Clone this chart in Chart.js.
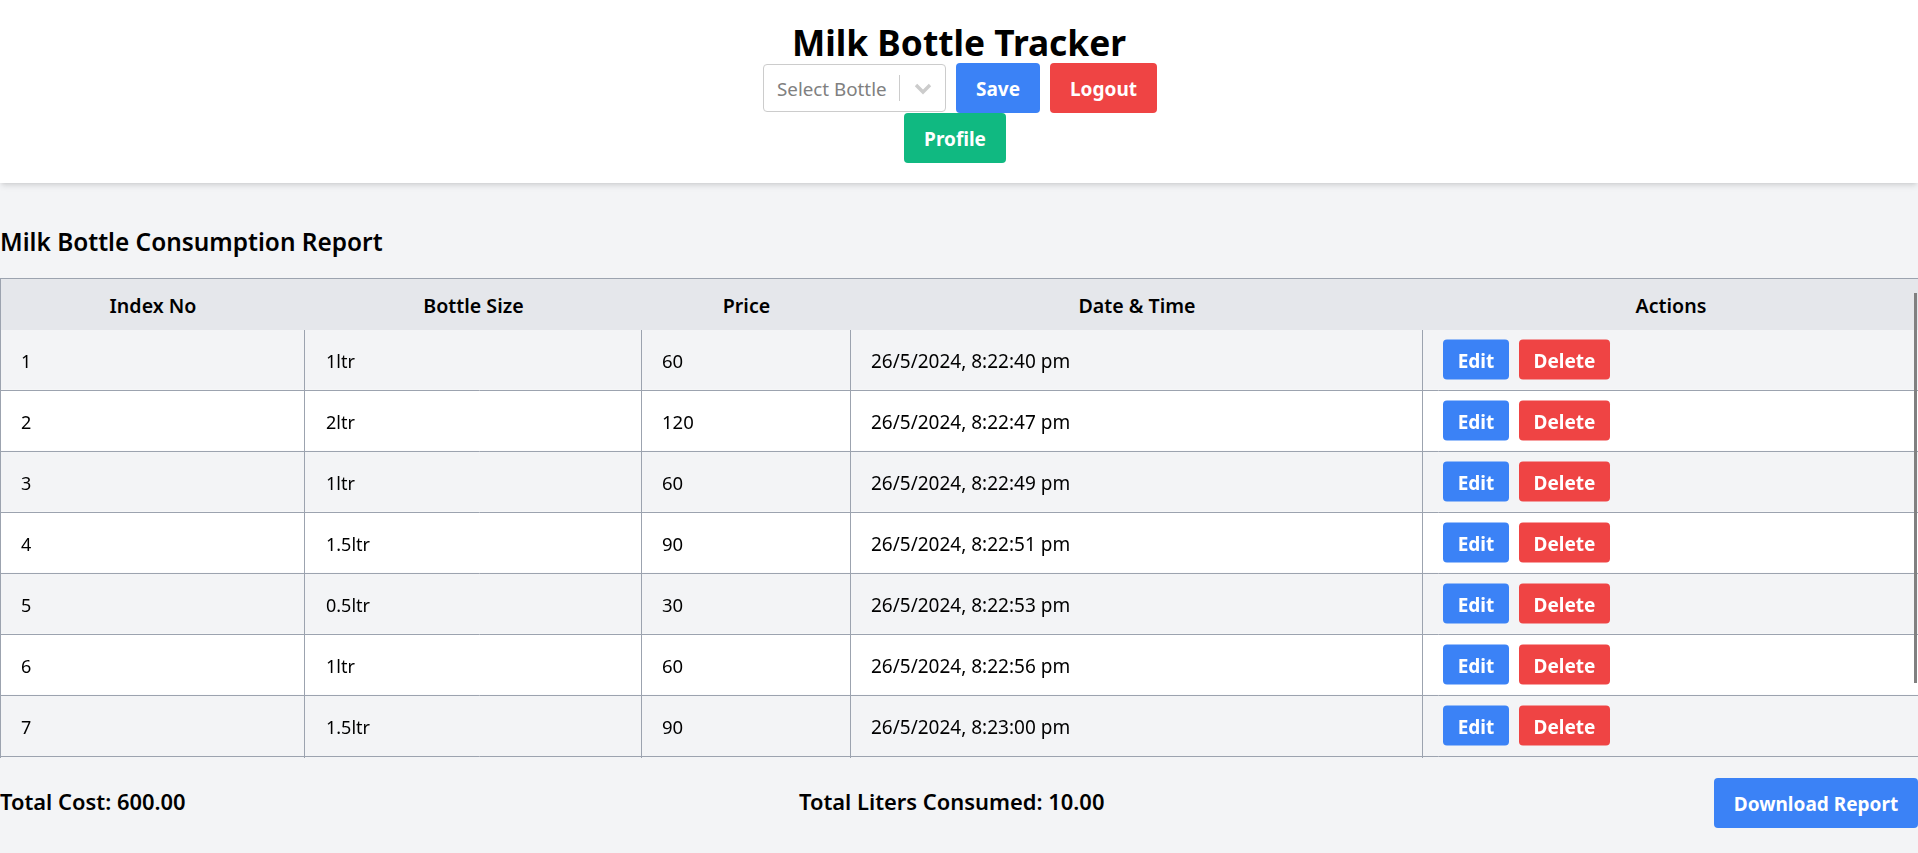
<!DOCTYPE html>
<html>
<head>
<meta charset="utf-8">
<title>Milk Bottle Tracker</title>
<script src="https://cdn.jsdelivr.net/npm/chart.js@4/dist/chart.umd.min.js"></script>
<style>
  html, body { margin: 0; height: 100%; overflow: hidden; background: #f3f4f6; }
  body { font-family: "Noto Sans", sans-serif; color: #000; position: relative; width: 1918px; height: 853px; }
  .abs { position: absolute; box-sizing: border-box; white-space: nowrap; }
  #topbar { left: 0; top: 0; width: 1918px; height: 183px; background: #fff;
            box-shadow: 0 4px 6px -1px rgba(0,0,0,.1), 0 2px 4px -2px rgba(0,0,0,.1); }
  h1 { margin: 0; left: 0; width: 1918px; top: 17px; text-align: center; font-size: 35.3px; line-height: 50px; font-weight: 700; }
  h2 { margin: 0; left: 0; top: 226px; font-size: 24.4px; line-height: 32px; font-weight: 600; }
  .btn { color: #fff; border-radius: 4px; font-size: 19px; font-weight: 700; text-align: center; height: 50px; line-height: 53px; }
  #select { left: 763px; top: 64px; width: 183px; height: 48px; background: #fff; border: 1px solid #ccc; border-radius: 4px; }
  #selectText { left: 13px; top: 0; line-height: 48px; font-size: 18.8px; color: #808080; }
  #selectSep { left: 135px; top: 10px; width: 1px; height: 26px; background: #ccc; }
  #thead { left: 0; top: 278px; width: 1918px; height: 52px; background: #e5e7eb; border-top: 1px solid #9ca3af; border-left: 1px solid #9ca3af; z-index: 1; }
  .th { top: 0; line-height: 53px; font-size: 19.6px; font-weight: 600; text-align: center; }
  #scrollThumb { left: 1914px; top: 293px; width: 3px; height: 390px; background: #808080; z-index: 2; }
  .total { top: 786px; font-size: 21.9px; line-height: 32px; font-weight: 600; }
  canvas { position: absolute; left: 0; top: 329px; }
</style>
</head>
<body>
<div class="abs" id="topbar"></div>
<h1 class="abs">Milk Bottle Tracker</h1>
<div class="abs" id="select">
  <span class="abs" id="selectText">Select Bottle</span>
  <span class="abs" id="selectSep"></span>
  <svg class="abs" style="left:150px;top:18px" width="18" height="12" viewBox="0 0 18 12"><path d="M2 2 L9 9 L16 2" fill="none" stroke="#ccc" stroke-width="3.4"/></svg>
</div>
<div class="abs btn" style="left:956px;top:63px;width:84px;background:#3b82f6">Save</div>
<div class="abs btn" style="left:1050px;top:63px;width:107px;background:#ef4444">Logout</div>
<div class="abs btn" style="left:904px;top:113px;width:102px;background:#10b981">Profile</div>

<h2 class="abs">Milk Bottle Consumption Report</h2>

<div class="abs" id="thead"></div>
<canvas id="report-chart" width="1918" height="429"></canvas>
<div class="abs" id="scrollThumb"></div>

<div class="abs total" style="left:0">Total Cost: 600.00</div>
<div class="abs total" style="left:799px">Total Liters Consumed: 10.00</div>
<div class="abs btn" style="left:1714px;top:778px;width:204px;background:#3b82f6">Download Report</div>

<script>
// Table contents
var columnHeaders = ["Index No", "Bottle Size", "Price", "Date & Time", "Actions"];
var indexNumbers = ["1", "2", "3", "4", "5", "6", "7"];
var bottleSizes = ["1ltr", "2ltr", "1ltr", "1.5ltr", "0.5ltr", "1ltr", "1.5ltr"];
var prices = [60, 120, 60, 90, 30, 60, 90];
var dateTimes = [
    "26/5/2024, 8:22:40 pm",
    "26/5/2024, 8:22:47 pm",
    "26/5/2024, 8:22:49 pm",
    "26/5/2024, 8:22:51 pm",
    "26/5/2024, 8:22:53 pm",
    "26/5/2024, 8:22:56 pm",
    "26/5/2024, 8:23:00 pm"
];

// Column borders, in page pixels; the x axis runs across the whole window
var pageWidth = 1918;
var columnEdges = [0.5, 304, 641, 850, 1422];
var borderColor = "#9ca3af";
var fontFamily = '"Noto Sans", sans-serif';

// Header cells sit above the canvas because they are shorter than the rows
var thead = document.getElementById("thead");
columnHeaders.forEach(function(name, i) {
    var left = i === 0 ? 0 : columnEdges[i];
    var right = i + 1 < columnEdges.length ? columnEdges[i + 1] : pageWidth;
    var th = document.createElement("div");
    th.className = "abs th";
    th.style.left = left + "px";
    th.style.width = (right - left) + "px";
    th.textContent = name;
    thead.appendChild(th);
});

// Draws the cell text and the Edit / Delete buttons of each row
var cellPlugin = {
    id: "cells",
    afterDraw: function(chart) {
        var ctx = chart.ctx;
        var x = chart.scales.x;
        var y = chart.scales.y;

        function button(left, width, middle, color, label) {
            ctx.fillStyle = color;
            ctx.beginPath();
            ctx.roundRect(x.getPixelForValue(left), middle - 20, width, 40, 4);
            ctx.fill();
            ctx.fillStyle = "#fff";
            ctx.font = "bold 19px " + fontFamily;
            ctx.textAlign = "center";
            ctx.fillText(label, x.getPixelForValue(left) + width / 2, middle + 3);
        }

        function cell(text, left, middle, size) {
            ctx.font = size + "px " + fontFamily;
            ctx.textAlign = "left";
            ctx.fillStyle = "#000";
            ctx.fillText(text, x.getPixelForValue(left), middle + 3);
        }

        ctx.save();
        ctx.textBaseline = "middle";
        indexNumbers.forEach(function(label, i) {
            var middle = y.getPixelForValue(i);
            cell(label, 21, middle, 18);
            cell(bottleSizes[i], columnEdges[1] + 22, middle, 18);
            cell(String(prices[i]), columnEdges[2] + 21, middle, 18.5);
            cell(dateTimes[i], columnEdges[3] + 21, middle, 19);
            button(columnEdges[4] + 21, 66, middle, "#3b82f6", "Edit");
            button(columnEdges[4] + 97, 91, middle, "#ef4444", "Delete");
        });
        ctx.restore();
    }
};

new Chart(document.getElementById("report-chart").getContext("2d"), {
    type: "bar",
    data: {
        labels: indexNumbers,
        datasets: [{
            // one full-width bar per row gives the striped background
            data: indexNumbers.map(function() { return pageWidth; }),
            backgroundColor: indexNumbers.map(function(_, i) { return i % 2 ? "#ffffff" : "#f3f4f6"; }),
            barPercentage: 1,
            categoryPercentage: 1
        }]
    },
    options: {
        indexAxis: "y",
        responsive: false,
        animation: false,
        layout: { padding: 0 },
        plugins: { legend: { display: false }, tooltip: { enabled: false } },
        scales: {
            x: {
                type: "linear",
                min: 0,
                max: pageWidth,
                afterBuildTicks: function(axis) {
                    axis.ticks = columnEdges.map(function(edge) { return { value: edge }; });
                },
                ticks: { display: false },
                border: { display: false },
                grid: { color: borderColor, tickColor: borderColor, tickLength: 2, z: 1 }
            },
            y: {
                ticks: { display: false },
                border: { display: false },
                grid: {
                    drawTicks: false,
                    z: 1,
                    color: function(context) { return context.index === 0 ? "transparent" : borderColor; }
                }
            }
        }
    },
    plugins: [cellPlugin]
});
</script>
</body>
</html>
